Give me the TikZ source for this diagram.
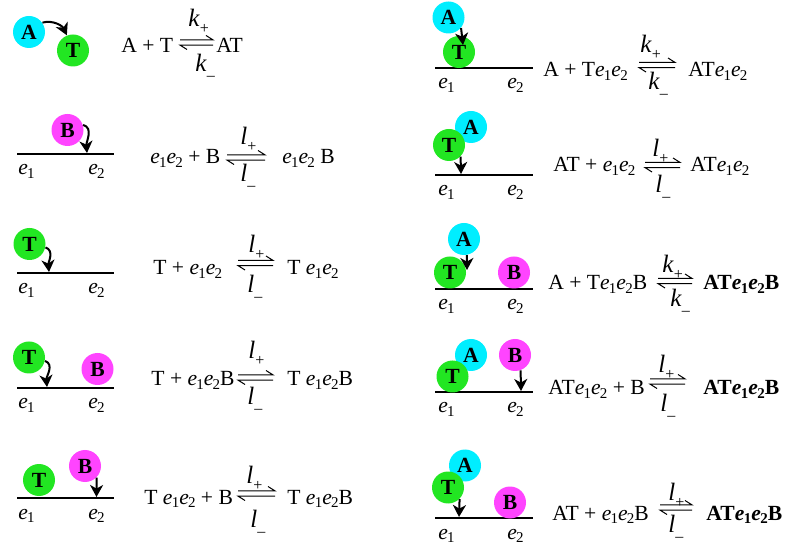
\documentclass[tikz,border=0pt]{standalone}
\usepackage{fontspec}
\setmainfont{Liberation Serif}
\usepackage{xcolor}
\usepackage{tikz}
\usetikzlibrary{arrows.meta}
\definecolor{ballcyan}{RGB}{0,238,255}
\definecolor{ballgreen}{RGB}{34,230,34}
\definecolor{ballmag}{RGB}{255,68,255}
\newcommand{\ee}[1]{\textit{e}\kern-0.4pt\raisebox{-0.35ex}{\fontsize{7.5}{8}\selectfont #1}}
\newcommand{\bee}[1]{\textbf{\textit{e}}\kern-0.3pt\raisebox{-0.35ex}{\fontsize{7.5}{8}\selectfont\bfseries #1}}
\newcommand{\rateup}[1]{\textit{#1}\raisebox{-3.5pt}{\fontsize{8}{9}\selectfont +}}
\newcommand{\ratedn}[1]{\textit{#1}\raisebox{-4.5pt}{\fontsize{8}{9}\selectfont –}}

\begin{document}
\begin{tikzpicture}[
  x=0.5pt, y=-0.5pt,
  font=\fontsize{10.8}{13}\selectfont,
  ball/.style ={circle, inner sep=0pt, minimum size=16pt, font=\fontsize{10.8}{13}\selectfont\bfseries},
  ballA/.style={ball, fill=ballcyan},
  ballT/.style={ball, fill=ballgreen},
  ballB/.style={ball, fill=ballmag},
  eq/.style   ={anchor=base west, inner sep=0pt},
  rate/.style ={eq, font=\fontsize{12.5}{14}\selectfont},
  track/.style={line width=1.1pt},
  ar/.style   ={-{Stealth[length=6pt,width=6.5pt,inset=1.8pt]}, line width=1pt},
  hp/.style   ={line width=0.5pt},
]
\useasboundingbox (0,0) rectangle (786,544);

% ---- panel 1 : A + T ----
\node[ballA] (a1) at (29,32) {A};
\node[ballT] (t1) at (73,50.5) {T};
\draw[ar] (a1.35) to[out=15,in=115] (t1.112);
\node[eq] (l1) at (121,53) {A + T};
\coordinate (h1a) at (180,42.5); \coordinate (h1b) at (213,42.5);
\draw[hp] ([yshift=1.3pt]h1a) -- ([yshift=1.3pt]h1b) -- +(-3.5pt,2.2pt);
\draw[hp] ([yshift=-1.3pt]h1b) -- ([yshift=-1.3pt]h1a) -- +(3.5pt,-2.2pt);
\node[rate] (k1p) at (188,27) {\rateup{k}};
\node[rate] (k1m) at (195,72) {\ratedn{k}};
\node[eq] (r1) at (216,53) {AT};

% ---- panel 2 : e1e2 + B ----
\coordinate (s2a) at (17,154); \coordinate (s2b) at (114,154);
\draw[track] (s2a) -- (s2b);
\node[eq] (e21) at (18,175) {\ee1};
\node[eq] (e22) at (88,175) {\ee2};
\node[ballB] (b2) at (67.5,130) {B};
\coordinate (p2) at (87,153);
\draw[ar] (b2.18) to[out=-15,in=95] (p2);
\node[eq] (l2) at (150,164) {\ee1\ee2 + B};
\coordinate (h2a) at (227,157.5); \coordinate (h2b) at (265,157.5);
\draw[hp] ([yshift=1.3pt]h2a) -- ([yshift=1.3pt]h2b) -- +(-3.5pt,2.2pt);
\draw[hp] ([yshift=-1.3pt]h2b) -- ([yshift=-1.3pt]h2a) -- +(3.5pt,-2.2pt);
\node[rate] (k2p) at (240,145) {\rateup{l}};
\node[rate] (k2m) at (240,182) {\ratedn{l}};
\node[eq] (r2) at (282,164) {\ee1\ee2\ B};

% ---- panel 3 : T + e1e2 ----
\coordinate (s3a) at (17,273); \coordinate (s3b) at (114,273);
\draw[track] (s3a) -- (s3b);
\node[eq] (e31) at (18,294) {\ee1};
\node[eq] (e32) at (88,294) {\ee2};
\node[ballT] (t3) at (29.5,244) {T};
\coordinate (p3) at (49,272);
\draw[ar] (t3.-12) to[out=-20,in=95] (p3);
\node[eq] (l3) at (153,275) {T + \ee1\ee2};
\coordinate (h3a) at (238,263); \coordinate (h3b) at (273,263);
\draw[hp] ([yshift=1.3pt]h3a) -- ([yshift=1.3pt]h3b) -- +(-3.5pt,2.2pt);
\draw[hp] ([yshift=-1.3pt]h3b) -- ([yshift=-1.3pt]h3a) -- +(3.5pt,-2.2pt);
\node[rate] (k3p) at (248,253) {\rateup{l}};
\node[rate] (k3m) at (247,293) {\ratedn{l}};
\node[eq] (r3) at (287,275) {T \ee1\ee2};

% ---- panel 4 : T + e1e2B ----
\coordinate (s4a) at (17,388); \coordinate (s4b) at (114,388);
\draw[track] (s4a) -- (s4b);
\node[eq] (e41) at (18,409) {\ee1};
\node[eq] (e42) at (88,409) {\ee2};
\node[ballT] (t4) at (29,357.5) {T};
\node[ballB] (b4) at (97.5,369) {B};
\coordinate (p4) at (47,387);
\draw[ar] (t4.-12) to[out=-20,in=95] (p4);
\node[eq] (l4) at (151,386) {T + \ee1\ee2B};
\coordinate (h4a) at (238,377.5); \coordinate (h4b) at (273,377.5);
\draw[hp] ([yshift=1.3pt]h4a) -- ([yshift=1.3pt]h4b) -- +(-3.5pt,2.2pt);
\draw[hp] ([yshift=-1.3pt]h4b) -- ([yshift=-1.3pt]h4a) -- +(3.5pt,-2.2pt);
\node[rate] (k4p) at (248,359) {\rateup{l}};
\node[rate] (k4m) at (247,405) {\ratedn{l}};
\node[eq] (r4) at (287,386) {T \ee1\ee2B};

% ---- panel 5 : Te1e2 + B ----
\coordinate (s5a) at (17,498); \coordinate (s5b) at (114,498);
\draw[track] (s5a) -- (s5b);
\node[eq] (e51) at (18,519) {\ee1};
\node[eq] (e52) at (88,519) {\ee2};
\node[ballT] (t5) at (39,480) {T};
\node[ballB] (b5) at (85,466) {B};
\coordinate (p5) at (96.5,497);
\draw[ar] (b5.-45) -- (p5);
\node[eq] (l5) at (144,504) {T \ee1\ee2 + B};
\coordinate (h5a) at (238,493.5); \coordinate (h5b) at (275,493.5);
\draw[hp] ([yshift=1.3pt]h5a) -- ([yshift=1.3pt]h5b) -- +(-3.5pt,2.2pt);
\draw[hp] ([yshift=-1.3pt]h5b) -- ([yshift=-1.3pt]h5a) -- +(3.5pt,-2.2pt);
\node[rate] (k5p) at (246,483) {\rateup{l}};
\node[rate] (k5m) at (250,527) {\ratedn{l}};
\node[eq] (r5) at (287,504) {T \ee1\ee2B};

% ---- panel 6 : A + Te1e2 ----
\coordinate (s6a) at (435,68); \coordinate (s6b) at (533,68);
\draw[track] (s6a) -- (s6b);
\node[eq] (e61) at (438,89) {\ee1};
\node[eq] (e62) at (507,89) {\ee2};
\node[ballA] (a6) at (448.5,17.5) {A};
\node[ballT] (t6) at (459,52) {T};
\coordinate (p6) at (463,45);
\draw[ar] (a6.-40) -- (p6);
\node[eq] (l6) at (543,77) {A + T\ee1\ee2};
\coordinate (h6a) at (639,65); \coordinate (h6b) at (675,65);
\draw[hp] ([yshift=1.3pt]h6a) -- ([yshift=1.3pt]h6b) -- +(-3.5pt,2.2pt);
\draw[hp] ([yshift=-1.3pt]h6b) -- ([yshift=-1.3pt]h6a) -- +(3.5pt,-2.2pt);
\node[rate] (k6p) at (640,53) {\rateup{k}};
\node[rate] (k6m) at (648,90) {\ratedn{k}};
\node[eq] (r6) at (688,77) {AT\ee1\ee2};

% ---- panel 7 : AT + e1e2 ----
\coordinate (s7a) at (435,175); \coordinate (s7b) at (533,175);
\draw[track] (s7a) -- (s7b);
\node[eq] (e71) at (438,196) {\ee1};
\node[eq] (e72) at (507,196) {\ee2};
\node[ballA] (a7) at (471,127) {A};
\node[ballT] (t7) at (449,145) {T};
\coordinate (p7) at (461,174);
\draw[ar] (t7.-45) -- (p7);
\node[eq] (l7) at (553,172) {AT + \ee1\ee2};
\coordinate (h7a) at (645,165); \coordinate (h7b) at (680,165);
\draw[hp] ([yshift=1.3pt]h7a) -- ([yshift=1.3pt]h7b) -- +(-3.5pt,2.2pt);
\draw[hp] ([yshift=-1.3pt]h7b) -- ([yshift=-1.3pt]h7a) -- +(3.5pt,-2.2pt);
\node[rate] (k7p) at (652,157) {\rateup{l}};
\node[rate] (k7m) at (655,193) {\ratedn{l}};
\node[eq] (r7) at (690,172) {AT\ee1\ee2};

% ---- panel 8 : A + Te1e2B ----
\coordinate (s8a) at (435,289); \coordinate (s8b) at (533,289);
\draw[track] (s8a) -- (s8b);
\node[eq] (e81) at (438,310) {\ee1};
\node[eq] (e82) at (507,310) {\ee2};
\node[ballA] (a8) at (464,239) {A};
\node[ballT] (t8) at (450,272.5) {T};
\node[ballB] (b8) at (514,272.5) {B};
\coordinate (p8) at (467,270);
\draw[ar] (a8.-80) -- (p8);
\node[eq] (l8) at (548,290) {A + T\ee1\ee2B};
\coordinate (h8a) at (658,281); \coordinate (h8b) at (692,281);
\draw[hp] ([yshift=1.3pt]h8a) -- ([yshift=1.3pt]h8b) -- +(-3.5pt,2.2pt);
\draw[hp] ([yshift=-1.3pt]h8b) -- ([yshift=-1.3pt]h8a) -- +(3.5pt,-2.2pt);
\node[rate] (k8p) at (662,273) {\rateup{k}};
\node[rate] (k8m) at (670,307) {\ratedn{k}};
\node[eq] (r8) at (703,290) {\textbf{AT\bee1\bee2B}};

% ---- panel 9 : ATe1e2 + B ----
\coordinate (s9a) at (435,392); \coordinate (s9b) at (533,392);
\draw[track] (s9a) -- (s9b);
\node[eq] (e91) at (438,413) {\ee1};
\node[eq] (e92) at (507,413) {\ee2};
\node[ballA] (a9) at (471,355) {A};
\node[ballT] (t9) at (452.5,376.5) {T};
\node[ballB] (b9) at (515,355) {B};
\coordinate (p9) at (521,391);
\draw[ar] (b9.-70) -- (p9);
\node[eq] (l9) at (548,395) {AT\ee1\ee2 + B};
\coordinate (h9a) at (650,381.5); \coordinate (h9b) at (685,381.5);
\draw[hp] ([yshift=1.3pt]h9a) -- ([yshift=1.3pt]h9b) -- +(-3.5pt,2.2pt);
\draw[hp] ([yshift=-1.3pt]h9b) -- ([yshift=-1.3pt]h9a) -- +(3.5pt,-2.2pt);
\node[rate] (k9p) at (658,373) {\rateup{l}};
\node[rate] (k9m) at (660,412) {\ratedn{l}};
\node[eq] (r9) at (703,395) {\textbf{AT\bee1\bee2B}};

% ---- panel 10 : AT + e1e2B ----
\coordinate (s10a) at (435,518); \coordinate (s10b) at (533,518);
\draw[track] (s10a) -- (s10b);
\node[eq] (e101) at (438,539) {\ee1};
\node[eq] (e102) at (507,539) {\ee2};
\node[ballA] (a10) at (465,465.5) {A};
\node[ballT] (t10) at (448,487.5) {T};
\node[ballB] (b10) at (510,502.5) {B};
\coordinate (p10) at (459,517);
\draw[ar] (t10.-45) -- (p10);
\node[eq] (l10) at (552,520) {AT + \ee1\ee2B};
\coordinate (h10a) at (660,507.5); \coordinate (h10b) at (692,507.5);
\draw[hp] ([yshift=1.3pt]h10a) -- ([yshift=1.3pt]h10b) -- +(-3.5pt,2.2pt);
\draw[hp] ([yshift=-1.3pt]h10b) -- ([yshift=-1.3pt]h10a) -- +(3.5pt,-2.2pt);
\node[rate] (k10p) at (668,500) {\rateup{l}};
\node[rate] (k10m) at (668,532) {\ratedn{l}};
\node[eq] (r10) at (706,520) {\textbf{AT\bee1\bee2B}};
\end{tikzpicture}
\end{document}
